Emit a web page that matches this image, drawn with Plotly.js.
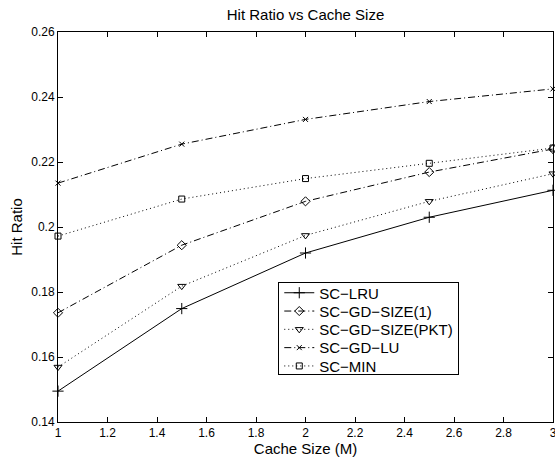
<!DOCTYPE html>
<html><head><meta charset="utf-8">
<script src="https://cdn.plot.ly/plotly-3.0.1.min.js"></script>
<style>body{margin:0;padding:0;background:#fff}#chart{width:555px;height:459px}</style>
</head><body><div id="chart"></div>
<script>
const cacheSize = [1, 1.5, 2, 2.5, 3];
const seriesNames = ["SC−LRU", "SC−GD−SIZE(1)", "SC−GD−SIZE(PKT)", "SC−GD−LU", "SC−MIN"];
const scLRU = [0.1495, 0.1749, 0.1920, 0.2030, 0.2113];
const scGDSize1 = [0.1736, 0.1944, 0.2079, 0.2169, 0.2240];
const scGDSizePKT = [0.1569, 0.1818, 0.1974, 0.2079, 0.2164];
const scGDLU = [0.2135, 0.2255, 0.2331, 0.2386, 0.2425];
const scMIN = [0.1972, 0.2086, 0.2149, 0.2196, 0.2243];
const yTicks = [0.14, 0.16, 0.18, 0.2, 0.22, 0.24, 0.26];
const xTicks = [1, 1.2, 1.4, 1.6, 1.8, 2, 2.2, 2.4, 2.6, 2.8, 3];

const styles = [
  {dash: "solid", symbol: "cross-thin-open", size: 8},
  {dash: "7px,3px,1px,3px", symbol: "diamond-open", size: 7},
  {dash: "1px,3px", symbol: "triangle-down-open", size: 7},
  {dash: "7px,3px,1px,3px", symbol: "x-thin-open", size: 5},
  {dash: "1px,3px", symbol: "square-open", size: 6}
];
const allY = [scLRU, scGDSize1, scGDSizePKT, scGDLU, scMIN];
const data = allY.map((ys, i) => ({
  x: cacheSize, y: ys, name: seriesNames[i], type: "scatter", mode: "lines+markers",
  line: {color: "black", width: 1, dash: styles[i].dash},
  marker: {symbol: styles[i].symbol, size: styles[i].size, color: "black", line: {color: "black", width: 1}},
  cliponaxis: false
}));
const font = {family: "Liberation Sans, Arial, Helvetica, sans-serif", color: "black"};
const layout = {
  width: 555, height: 459,
  margin: {l: 58, r: 2, t: 32, b: 37},
  paper_bgcolor: "white", plot_bgcolor: "white",
  font: Object.assign({size: 12}, font),
  title: {text: "Hit Ratio vs Cache Size", font: Object.assign({size: 15}, font),
    xref: "paper", x: 0.5, xanchor: "center", yref: "container", y: 0.968, yanchor: "middle"},
  xaxis: {
    range: [1, 3], tickvals: xTicks, ticktext: xTicks.map(String),
    ticks: "inside", ticklen: 5, tickcolor: "black", showline: true, linecolor: "black", linewidth: 1,
    mirror: "ticks", showgrid: false, zeroline: false, ticklabeloverflow: "allow",
    title: {text: "Cache Size (M)", font: Object.assign({size: 15}, font), standoff: 0},
    tickfont: Object.assign({size: 12}, font)
  },
  yaxis: {
    range: [0.14, 0.26], tickvals: yTicks, ticktext: yTicks.map(String),
    ticks: "inside", ticklen: 5, tickcolor: "black", showline: true, linecolor: "black", linewidth: 1,
    mirror: "ticks", showgrid: false, zeroline: false,
    title: {text: "Hit Ratio", font: Object.assign({size: 15}, font), standoff: 4},
    tickfont: Object.assign({size: 12}, font)
  },
  showlegend: true,
  legend: {
    x: 0.445, y: 0.359, xanchor: "left", yanchor: "top",
    bgcolor: "white", bordercolor: "black", borderwidth: 1,
    font: Object.assign({size: 15}, font), tracegroupgap: 0, itemwidth: 30
  }
};
Plotly.newPlot("chart", data, layout, {displayModeBar: false, staticPlot: true}).then(gd => {
  // tighten legend row spacing to match the reference
  const leg = gd.querySelector('.legend');
  if (!leg) return;
  const bg = leg.querySelector('rect.bg');
  const items = leg.querySelectorAll('.traces');
  const top = bg.getBoundingClientRect().top;
  items.forEach((it, i) => {
    const text = it.querySelector('text.legendtext');
    if (!text) return;
    const r = text.getBoundingClientRect();
    const cy = r.top + r.height / 2;
    const target = top + 10.6 + i * 18.3;
    const m = /translate\(\s*([-\d.e]+)[ ,]+([-\d.e]+)\s*\)/.exec(it.getAttribute('transform') || '');
    if (!m) return;
    it.setAttribute('transform', 'translate(' + m[1] + ',' + (parseFloat(m[2]) + target - cy) + ')');
  });
  bg.setAttribute('height', 92);
});
</script></body></html>
